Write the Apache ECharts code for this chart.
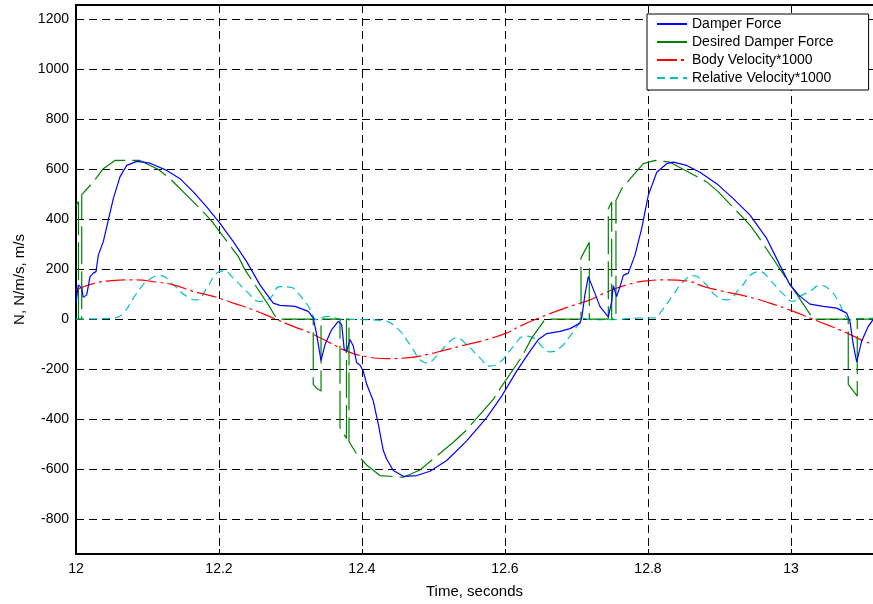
<!DOCTYPE html>
<html>
<head>
<meta charset="utf-8">
<script src="https://cdn.jsdelivr.net/npm/echarts@6/dist/echarts.min.js"></script>
<style>
  html, body { margin: 0; padding: 0; background: #fff; }
  #chart { width: 873px; height: 604px; }
</style>
</head>
<body>
<div id="chart"></div>
<script>
// tick positions
var xTicks = [12, 12.2, 12.4, 12.6, 12.8, 13];
var yTicks = [-800, -600, -400, -200, 0, 200, 400, 600, 800, 1000, 1200];

// Damper Force
var damperT = [12.000, 12.0032, 12.008, 12.0102, 12.015, 12.0196, 12.0242, 12.028, 12.0312, 12.0382,
  12.0452, 12.0522, 12.0615, 12.0709, 12.0849, 12.1035, 12.1269, 12.1455, 12.1641, 12.1828,
  12.2014, 12.220, 12.2387, 12.2573, 12.2759, 12.2853, 12.3063, 12.3249, 12.3319, 12.3366,
  12.3427, 12.3483, 12.3576, 12.3668, 12.3716, 12.3752, 12.3786, 12.3832, 12.3878, 12.3926,
  12.3972, 12.4018, 12.4066, 12.4158, 12.4228, 12.4298, 12.4345, 12.4438, 12.4578, 12.4765,
  12.4951, 12.5185, 12.5464, 12.5744, 12.5954, 12.6163, 12.635, 12.6466, 12.6583, 12.6769,
  12.6909, 12.7049, 12.7073, 12.7119, 12.7165, 12.7235, 12.7329, 12.7445, 12.7492, 12.7515,
  12.7562, 12.7608, 12.7655, 12.7725, 12.7818, 12.7912, 12.8004, 12.8122, 12.8262, 12.8354,
  12.8541, 12.8727, 12.8961, 12.9193, 12.9427, 12.966, 12.9846, 12.9986, 13.0126, 13.0266,
  13.0452, 13.0639, 13.0779, 13.0825, 13.0871, 13.0919, 13.0989, 13.1081, 13.1147];
var damperF = [64, 137, 124, 87, 97, 170, 184, 190, 256, 310,
  396, 482, 569, 615, 631, 624, 595, 562, 509, 449,
  383, 310, 230, 137, 64, 55, 51, 31, 4, -62,
  -166, -102, -42, -9, -22, -122, -128, -82, -108, -175,
  -184, -208, -261, -328, -420, -526, -560, -606, -629, -626,
  -609, -566, -487, -394, -308, -208, -128, -82, -58, -49,
  -38, -16, 4, 100, 170, 120, 50, 9, 70, 134,
  90, 130, 175, 184, 256, 363, 495, 588, 622, 628,
  615, 588, 542, 482, 416, 323, 215, 137, 91, 60,
  51, 44, 24, -9, -102, -171, -88, -29, -2];

// Desired Damper Force
var desiredT = [12.000, 12.0035, 12.0035, 12.008, 12.008, 12.0242, 12.0382, 12.0545, 12.0895, 12.0989,
  12.1152, 12.1315, 12.1758, 12.1898, 12.2271, 12.2364, 12.2691, 12.2811, 12.3318, 12.3318,
  12.3366, 12.3427, 12.3427, 12.3692, 12.3692, 12.3783, 12.3783, 12.3818, 12.3818, 12.3926,
  12.4073, 12.4252, 12.4578, 12.4811, 12.5277, 12.5441, 12.5836, 12.5954, 12.6233, 12.6375,
  12.6562, 12.7063, 12.7063, 12.7179, 12.7179, 12.7445, 12.7445, 12.7492, 12.7492, 12.7552,
  12.7552, 12.7632, 12.7935, 12.8098, 12.8308, 12.8821, 12.8983, 12.9427, 12.9543, 12.987,
  12.9986, 13.0312, 13.0801, 13.0801, 13.0927, 13.0927, 13.1147];
var desiredF = [455, 470, 0, 0, 498, 549, 602, 635, 635, 622,
  599, 562, 436, 392, 250, 197, 57, 0, 0, -261,
  -277, -288, 0, 0, -434, -478, 0, 0, -490, -540,
  -586, -626, -633, -604, -493, -450, -321, -268, -152, -75,
  0, 0, 245, 307, 0, 0, 442, 469, 0, 0,
  475, 522, 622, 635, 628, 549, 509, 376, 330, 190,
  140, 0, 0, -261, -308, 0, 0];

// Body Velocity*1000
var bodyT = [12.000, 12.0266, 12.05, 12.07, 12.0849, 12.1082, 12.1361, 12.1641, 12.1921, 12.2201,
  12.248, 12.2759, 12.3039, 12.3273, 12.3553, 12.3786, 12.4018, 12.4345, 12.4625, 12.4904,
  12.5185, 12.5464, 12.5744, 12.6024, 12.6256, 12.6583, 12.6909, 12.7189, 12.7422, 12.7702,
  12.7982, 12.8261, 12.8587, 12.8773, 12.9053, 12.938, 12.9706, 13.0033, 13.0266, 13.0499,
  13.0779, 13.0989, 13.1147];
var bodyV = [117, 144, 154, 157, 157, 150, 137, 111, 91, 64,
  37, 4, -29, -55, -95, -128, -148, -158, -155, -142,
  -122, -102, -82, -55, -22, 17, 51, 77, 108, 137,
  153, 157, 150, 131, 111, 91, 64, 31, 4, -22,
  -55, -84, -100];

// Relative Velocity*1000
var relT = [12.000, 12.0522, 12.0662, 12.0802, 12.0919, 12.1012, 12.1175, 12.1361, 12.1548, 12.1688,
  12.1828, 12.1968, 12.2061, 12.220, 12.2387, 12.2573, 12.2713, 12.2853, 12.2993, 12.3133,
  12.3273, 12.3366, 12.3459, 12.3552, 12.3692, 12.4018, 12.4298, 12.4485, 12.4671, 12.4811,
  12.4904, 12.5045, 12.5185, 12.5324, 12.5464, 12.565, 12.579, 12.593, 12.6116, 12.628,
  12.6396, 12.6536, 12.6629, 12.6769, 12.6909, 12.7025, 12.7095, 12.7189, 12.7483, 12.7832,
  12.8098, 12.8168, 12.8354, 12.8494, 12.8634, 12.8773, 12.8961, 12.910, 12.9287, 12.9473,
  12.9566, 12.9706, 12.9893, 13.0033, 13.0126, 13.0266, 13.0406, 13.0545, 13.0662, 13.0755,
  13.0825, 13.0919, 13.1147];
var relV = [0, 4, 24, 84, 131, 157, 174, 137, 91, 77,
  124, 184, 193, 164, 111, 71, 84, 130, 128, 95,
  40, -2, 8, 11, 0, -2, -6, -35, -102, -162,
  -175, -148, -102, -75, -102, -155, -188, -172, -110, -68,
  -75, -115, -131, -115, -68, -22, 4, -2, -2, 4,
  5, 24, 97, 150, 174, 150, 91, 77, 124, 184,
  190, 157, 100, 71, 91, 111, 135, 117, 71, 17,
  -2, 2, 4];

function zip(t, v) {
  var out = [];
  for (var i = 0; i < t.length; i++) out.push([t[i], v[i]]);
  return out;
}

var chart = echarts.init(document.getElementById('chart'));
var font = 'Liberation Sans, Arial, sans-serif';
var gridDash = { color: '#000', width: 1, type: [8, 5] };

chart.setOption({
  animation: false,
  backgroundColor: '#fff',
  grid: { left: 76, top: 5, right: 0, bottom: 47 },
  legend: {
    orient: 'vertical',
    left: 647,
    top: 14,
    padding: [3, 35, 5, 9],
    itemGap: 4,
    itemWidth: 30,
    itemHeight: 14,
    backgroundColor: '#fff',
    borderColor: '#000',
    borderWidth: 1,
    borderRadius: 0,
    itemStyle: { opacity: 0 },
    textStyle: { fontFamily: font, fontSize: 14, color: '#000' },
    data: ['Damper Force', 'Desired Damper Force', 'Body Velocity*1000', 'Relative Velocity*1000']
  },
  xAxis: [
    {
      type: 'value',
      min: 12,
      max: 13.1147,
      position: 'bottom',
      name: 'Time, seconds',
      nameLocation: 'middle',
      nameGap: 30,
      nameTextStyle: { fontFamily: font, fontSize: 15, color: '#000' },
      axisLine: { show: true, onZero: false, lineStyle: { color: '#000', width: 2 } },
      axisTick: { show: true, inside: true, length: 5, customValues: xTicks, lineStyle: { color: '#000' } },
      axisLabel: { customValues: xTicks, fontFamily: font, fontSize: 14, color: '#000', margin: 8 },
      splitLine: { show: true, lineStyle: gridDash }
    },
    {
      type: 'value',
      min: 12,
      max: 13.1147,
      position: 'top',
      axisLine: { show: true, onZero: false, lineStyle: { color: '#000', width: 2 } },
      axisTick: { show: false },
      axisLabel: { show: false },
      splitLine: { show: false }
    }
  ],
  yAxis: {
    type: 'value',
    min: -940,
    max: 1257,
    name: 'N, N/m/s, m/s',
    nameLocation: 'middle',
    nameGap: 47,
    nameTextStyle: { fontFamily: font, fontSize: 15, color: '#000' },
    axisLine: { show: true, onZero: false, lineStyle: { color: '#000', width: 2 } },
    axisTick: { show: true, inside: true, length: 5, customValues: yTicks, lineStyle: { color: '#000' } },
    axisLabel: {
      customValues: yTicks, fontFamily: font, fontSize: 14, color: '#000', margin: 7,
      formatter: function (v) { return String(v); }
    },
    splitLine: { show: true, lineStyle: gridDash }
  },
  series: [
    {
      name: 'Damper Force',
      type: 'line',
      symbol: 'none',
      data: zip(damperT, damperF),
      lineStyle: { color: '#0000ff', width: 1.2 },
      itemStyle: { color: '#0000ff' },
      z: 5
    },
    {
      name: 'Desired Damper Force',
      type: 'line',
      symbol: 'none',
      data: zip(desiredT, desiredF),
      lineStyle: { color: '#008000', width: 1.2, type: [38, 7] },
      itemStyle: { color: '#008000' },
      z: 4
    },
    {
      name: 'Body Velocity*1000',
      type: 'line',
      symbol: 'none',
      smooth: true,
      data: zip(bodyT, bodyV),
      lineStyle: { color: '#ff0000', width: 1.2, type: [20, 4, 3, 4] },
      itemStyle: { color: '#ff0000' },
      z: 3
    },
    {
      name: 'Relative Velocity*1000',
      type: 'line',
      symbol: 'none',
      smooth: true,
      data: zip(relT, relV),
      lineStyle: { color: '#00c0c0', width: 1.2, type: [8, 5] },
      itemStyle: { color: '#00c0c0' },
      z: 2
    }
  ]
});
</script>
</body>
</html>
